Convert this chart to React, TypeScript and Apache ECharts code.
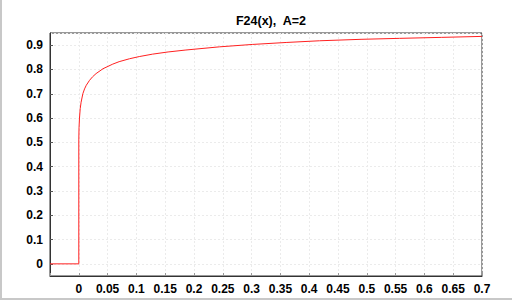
import React, { useEffect, useRef } from "react";
import * as echarts from "echarts";

const TITLE = "F24(x),  A=2";
const X_VALUES = [-0.05, 0, 0, 0.0004, 0.0012, 0.0025, 0.004, 0.007, 0.01, 0.013, 0.0186, 0.024, 0.03, 0.042, 0.059, 0.07, 0.088, 0.105, 0.128, 0.155, 0.186, 0.244, 0.302, 0.36, 0.418, 0.49, 0.557, 0.63, 0.7];
const Y_VALUES = [0, 0, 0.51, 0.56, 0.6, 0.64, 0.665, 0.7, 0.72, 0.735, 0.755, 0.77, 0.783, 0.803, 0.822, 0.832, 0.844, 0.853, 0.863, 0.872, 0.88, 0.893, 0.903, 0.911, 0.918, 0.924, 0.928, 0.932, 0.936];
const X_MIN = -0.05;
const X_MAX = 0.7;
const Y_MIN = -0.05;
const Y_MAX = 0.95;

export default function App() {
  const ref = useRef<HTMLDivElement>(null);
  useEffect(() => {
    const chart = echarts.init(ref.current!, undefined, { renderer: "svg" });
    const data = X_VALUES.map((x, i) => [x, Y_VALUES[i]]);
    const labelStyle = {
      color: "#000",
      fontWeight: "bold" as const,
      fontSize: 12,
      fontFamily: "Liberation Sans, Arial, sans-serif",
    };
    chart.setOption({
      animation: false,
      backgroundColor: "#fff",
      title: {
        text: TITLE,
        left: 266,
        textAlign: "center",
        top: 9,
        textStyle: { ...labelStyle, fontSize: 12.5 },
      },
      grid: {
        left: 50,
        right: 30,
        top: 33,
        bottom: 24,
        show: true,
        borderColor: "#333",
        borderWidth: 1,
      },
      xAxis: {
        type: "value",
        min: X_MIN,
        max: X_MAX,
        interval: 0.05,
        axisLine: { show: true, onZero: false, lineStyle: { color: "#333" } },
        axisTick: { show: true, inside: true, length: 3, lineStyle: { color: "#999" } },
        axisLabel: {
          ...labelStyle,
          margin: 7,
          formatter: (v: number) => (v < -0.01 ? "" : String(Math.round(v * 100) / 100)),
        },
        splitLine: { show: true, lineStyle: { color: "#ebebeb", type: [2, 2] } },
      },
      yAxis: {
        type: "value",
        min: Y_MIN,
        max: Y_MAX,
        splitNumber: 10,
        axisLine: { show: true, onZero: false, lineStyle: { color: "#333" } },
        axisTick: { show: true, inside: true, length: 3, lineStyle: { color: "#555" } },
        axisLabel: {
          ...labelStyle,
          margin: 7,
          showMinLabel: false,
          showMaxLabel: false,
          formatter: (v: number) => {
            const r = Math.round(v * 100) / 100;
            if (Math.abs(r * 10 - Math.round(r * 10)) > 1e-6) return "";
            return String(r);
          },
        },
        splitLine: { show: true, lineStyle: { color: "#ebebeb", type: [2, 2] } },
      },
      series: [
        {
          type: "line",
          data,
          showSymbol: false,
          symbol: "none",
          lineStyle: { color: "#ff2020", width: 1 },
          clip: true,
        },
      ],
      graphic: [
        { type: "rect", shape: { x: 0, y: 0, width: 2, height: 300 }, style: { fill: "#c8c8c8" }, silent: true },
        { type: "rect", shape: { x: 0, y: 298, width: 512, height: 2 }, style: { fill: "#c8c8c8" }, silent: true },
      ],
    });
    return () => chart.dispose();
  }, []);
  return (
    <div
      ref={ref}
      style={{ position: "absolute", left: 0, top: 0, width: 512, height: 300 }}
    />
  );
}
